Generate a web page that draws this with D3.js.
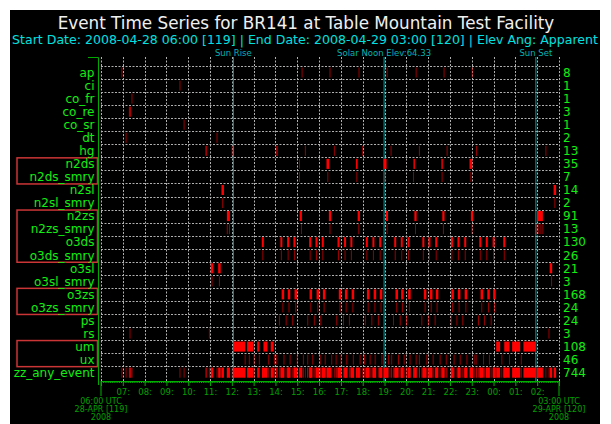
<!DOCTYPE html>
<html>
<head>
<meta charset="utf-8">
<script src="https://cdn.jsdelivr.net/npm/d3@7"></script>
<style>
body { margin: 0; background: #fff; }
svg { display: block; font-family: "DejaVu Sans", sans-serif; }
</style>
</head>
<body>
<svg class="chart"></svg>
<script>
// hours are UTC hours counted from 2008-04-28 00:00 (so 25.5 = 01:30 on the 29th)
// tick events are [hour, n] (n = events stacked on that spot), blocks are [from, to, n]
var rows = ["ap", "ci", "co_fr", "co_re", "co_sr", "dt", "hg", "n2ds", "n2ds_smry", "n2sl", "n2sl_smry",
    "n2zs", "n2zs_smry", "o3ds", "o3ds_smry", "o3sl", "o3sl_smry", "o3zs", "o3zs_smry", "ps", "rs", "um", "ux", "zz_any_event"];
var counts = [8, 1, 1, 3, 1, 2, 13, 35, 7, 14, 2, 91, 13, 130, 26, 21, 3, 168, 24, 24, 3, 108, 46, 744];

var ap = [[6.96, 1], [15.22, 1], [16.50, 1], [17.83, 1], [19.12, 1], [20.45, 1], [21.73, 1], [23.02, 1]];
var ci = [[9.62, 1]];
var co_fr = [[7.42, 1]];
var co_re = [[7.30, 1], [7.33, 1], [7.36, 1]];
var co_sr = [[9.81, 1]];
var dt = [[7.15, 1], [11.32, 1]];
var hg = [[10.82, 2], [12.01, 1], [14.07, 2], [15.37, 1], [16.70, 1], [18.00, 1], [19.30, 1], [20.60, 1],
    [21.87, 1], [23.22, 1], [26.40, 1]];
var n2ds = [[15.10, 1], [16.40, 8], [17.73, 4], [19.03, 8], [20.36, 3], [21.64, 3], [22.96, 8]];
var n2ds_smry = [[15.10, 1], [16.40, 1], [17.73, 1], [19.03, 1], [20.33, 1], [21.64, 1], [22.96, 1]];
var n2sl = [[11.58, 7], [26.81, 7]];
var n2sl_smry = [[11.58, 1], [26.81, 1]];
var n2zs = [[11.84, 20], [15.16, 6], [16.50, 6], [17.82, 6], [19.11, 6], [20.42, 6], [21.70, 6], [23.01, 6],
    [25.99, 26.26, 29]];
var n2zs_smry = [[11.79, 1], [11.89, 1], [15.19, 1], [16.50, 1], [17.82, 1], [19.12, 1], [20.42, 1], [21.70, 1],
    [23.01, 1], [25.95, 1], [26.05, 1], [26.17, 1], [26.26, 1]];
var o3ds = [[13.42, 5], [14.27, 5], [14.58, 5], [14.87, 5], [15.59, 5], [15.88, 5], [16.17, 5], [16.89, 5],
    [17.19, 5], [17.48, 5], [18.19, 5], [18.49, 5], [18.80, 5], [19.49, 5], [19.79, 5], [20.10, 5], [20.78, 5],
    [21.06, 5], [21.37, 5], [22.09, 5], [22.39, 5], [22.70, 5], [23.39, 5], [23.69, 5], [24.00, 5], [24.49, 5]];
var o3ds_smry = [[13.42, 1], [14.27, 1], [14.58, 1], [14.87, 1], [15.59, 1], [15.88, 1], [16.17, 1], [16.89, 1],
    [17.19, 1], [17.48, 1], [18.19, 1], [18.49, 1], [18.80, 1], [19.49, 1], [19.79, 1], [20.10, 1], [20.78, 1],
    [21.06, 1], [21.37, 1], [22.09, 1], [22.39, 1], [22.70, 1], [23.39, 1], [23.69, 1], [24.00, 1], [24.49, 1]];
var o3sl = [[11.09, 7], [11.43, 7], [26.63, 7]];
var o3sl_smry = [[11.09, 1], [11.43, 1], [26.66, 1]];
var o3zs = [[14.34, 7], [14.62, 7], [14.93, 7], [15.62, 7], [15.94, 7], [16.23, 7], [16.96, 7], [17.24, 7],
    [17.55, 7], [18.25, 7], [18.56, 7], [18.84, 7], [19.56, 7], [19.82, 7], [20.14, 7], [20.86, 7], [21.14, 7],
    [21.41, 7], [22.12, 7], [22.42, 7], [22.73, 7], [23.46, 7], [23.77, 7], [24.04, 7]];
var o3zs_smry = [[14.34, 1], [14.62, 1], [14.93, 1], [15.62, 1], [15.94, 1], [16.23, 1], [16.96, 1], [17.24, 1],
    [17.55, 1], [18.25, 1], [18.56, 1], [18.84, 1], [19.56, 1], [19.82, 1], [20.14, 1], [20.86, 1], [21.14, 1],
    [21.41, 1], [22.12, 1], [22.42, 1], [22.73, 1], [23.46, 1], [23.77, 1], [24.04, 1]];
var ps = [[14.18, 1], [14.49, 1], [14.79, 1], [15.48, 1], [15.78, 1], [16.08, 1], [16.81, 1], [17.12, 1],
    [17.39, 1], [18.12, 1], [18.42, 1], [18.72, 1], [19.41, 1], [19.72, 1], [20.01, 1], [20.71, 1], [21.01, 1],
    [21.32, 1], [22.06, 1], [22.32, 1], [22.59, 1], [23.31, 1], [23.58, 1], [23.89, 1]];
var rs = [[7.33, 1], [10.97, 1], [26.54, 1]];
var um = [[12.07, 12.61, 22], [12.70, 12.99, 12], [13.16, 13.26, 4], [13.45, 13.63, 8], [13.78, 13.92, 6],
    [24.12, 24.30, 8], [24.49, 24.73, 10], [24.85, 25.22, 15], [25.37, 25.92, 23]];
var ux = [[12.61, 1], [12.80, 1], [13.02, 1], [13.26, 1], [13.69, 1], [13.95, 1], [14.06, 1], [14.39, 1],
    [14.67, 1], [15.00, 1], [15.28, 1], [15.48, 1], [15.71, 1], [16.05, 1], [16.28, 1], [16.58, 1], [16.78, 1],
    [17.01, 1], [17.27, 1], [17.57, 1], [17.88, 1], [18.08, 1], [18.34, 1], [18.57, 1], [18.88, 1], [19.18, 1],
    [19.33, 1], [19.64, 1], [19.90, 1], [20.17, 1], [20.45, 1], [20.60, 1], [20.94, 1], [21.23, 1], [21.55, 1],
    [21.83, 1], [22.19, 1], [22.47, 1], [22.78, 1], [23.11, 1], [23.20, 1], [23.54, 1], [23.81, 1], [24.38, 1],
    [24.73, 1], [25.27, 1]];

// zz_any_event is every event of the other rows
var rowEvents = [ap, ci, co_fr, co_re, co_sr, dt, hg, n2ds, n2ds_smry, n2sl, n2sl_smry, n2zs, n2zs_smry,
    o3ds, o3ds_smry, o3sl, o3sl_smry, o3zs, o3zs_smry, ps, rs, um, ux];
rowEvents.push([].concat.apply([], rowEvents));

var groups = [["n2ds", "n2ds_smry"], ["n2zs", "o3ds_smry"], ["o3zs", "o3zs_smry"], ["um", "ux"]];

var sunTimes = [12.07, 18.98, 25.94];
var sunLabels = ["Sun Rise", "Solar Noon Elev:64.33", "Sun Set"];

var title = "Event Time Series for BR141 at Table Mountain Test Facility";
var subtitle = "Start Date: 2008-04-28 06:00 [119] | End Date: 2008-04-29 03:00 [120] | Elev Ang: Apparent";
var startLabel = ["06:00 UTC", "28-APR [119]", "2008"];
var endLabel = ["03:00 UTC", "29-APR [120]", "2008"];

var width = 611, height = 424;
var day0 = Date.UTC(2008, 3, 28);
function toDate(h) { return new Date(day0 + h * 3600e3); }

var svg = d3.select(".chart")
    .attr("width", width)
    .attr("height", height);

svg.append("rect")
    .attr("x", 10).attr("y", 10)
    .attr("width", 590).attr("height", 414)
    .attr("fill", "#000");

var x = d3.scaleUtc()
    .domain([toDate(6), toDate(27)])
    .range([101, 559]);

var y = d3.scaleBand()
    .domain(rows)
    .range([66, 379.2]);

var plotTop = 57, plotBottom = 381;

// grid
svg.append("g").selectAll("line")
    .data(x.ticks(d3.utcHour.every(1)))
    .enter().append("line")
    .attr("x1", function (d) { return Math.round(x(d)) + 0.5; })
    .attr("x2", function (d) { return Math.round(x(d)) + 0.5; })
    .attr("y1", plotTop).attr("y2", plotBottom)
    .attr("stroke", "#b0b0b0")
    .attr("stroke-dasharray", "2,1.5");

svg.append("g").selectAll("line")
    .data(rows)
    .enter().append("line")
    .attr("x1", 101).attr("x2", 559)
    .attr("y1", function (d) { return Math.round(y(d)) + 0.5; })
    .attr("y2", function (d) { return Math.round(y(d)) + 0.5; })
    .attr("stroke", "#b0b0b0")
    .attr("stroke-dasharray", "2,1.5");

// sun lines
svg.append("g").selectAll("line")
    .data(sunTimes)
    .enter().append("line")
    .attr("x1", function (d) { return x(toDate(d)); })
    .attr("x2", function (d) { return x(toDate(d)); })
    .attr("y1", plotTop).attr("y2", plotBottom)
    .attr("stroke", "#00a0a0");

svg.append("g").selectAll("text")
    .data(sunTimes)
    .enter().append("text")
    .attr("x", function (d) { return x(toDate(d)); })
    .attr("y", 56)
    .attr("text-anchor", "middle")
    .style("font-size", "8.5px")
    .attr("fill", "#00b4b4")
    .text(function (d, i) { return sunLabels[i]; });

// events
var bw = y.bandwidth();
var rowG = svg.append("g").selectAll("g")
    .data(rows)
    .enter().append("g");

rowG.selectAll("rect")
    .data(function (d, i) { return rowEvents[i]; })
    .enter().append("rect")
    .attr("x", function (e) {
        if (e.length == 3) return x(toDate(e[0]));
        return x(toDate(e[0])) - Math.min(3, 1 + 0.25 * (e[1] - 1)) / 2;
    })
    .attr("width", function (e) {
        if (e.length == 3) return x(toDate(e[1])) - x(toDate(e[0]));
        return Math.min(3, 1 + 0.25 * (e[1] - 1));
    })
    .attr("y", function () { return y(d3.select(this.parentNode).datum()) + 1.5; })
    .attr("height", bw - 3)
    .attr("fill", "#ff0000")
    .attr("fill-opacity", function (e) { return 1 - Math.pow(0.4, e[e.length - 1]); });

// group boxes
svg.append("g").selectAll("rect")
    .data(groups)
    .enter().append("rect")
    .attr("x", 17)
    .attr("y", function (d) { return y(d[0]) + 0.5; })
    .attr("width", 80.5)
    .attr("height", function (d) { return y(d[1]) + bw - y(d[0]); })
    .attr("fill", "none")
    .attr("stroke", "#cc3535")
    .attr("stroke-width", 1.5);

// row labels and counts
svg.append("g").selectAll("text")
    .data(rows)
    .enter().append("text")
    .attr("x", 94.5)
    .attr("y", function (d) { return y(d) + bw / 2; })
    .attr("dy", "0.36em")
    .attr("text-anchor", "end")
    .style("font-size", "12px")
    .attr("fill", "#11ee11")
    .text(function (d) { return d; });

svg.append("g").selectAll("text")
    .data(counts)
    .enter().append("text")
    .attr("x", 563)
    .attr("y", function (d, i) { return y(rows[i]) + bw / 2; })
    .attr("dy", "0.36em")
    .style("font-size", "12px")
    .attr("fill", "#11ee11")
    .text(function (d) { return d; });

// left axis line
svg.append("path")
    .attr("d", "M88," + (plotTop + 0.5) + "H98.5V385")
    .attr("fill", "none")
    .attr("stroke", "#00aa00");

// time axis
var last = x.ticks(d3.utcHour.every(1)).length - 1;
var minor = svg.append("g")
    .attr("transform", "translate(0," + plotBottom + ")")
    .call(d3.axisBottom(x).ticks(d3.utcMinute.every(5)).tickSize(2).tickSizeOuter(0).tickFormat(""));
var major = svg.append("g")
    .attr("transform", "translate(0," + plotBottom + ")")
    .call(d3.axisBottom(x).ticks(d3.utcHour.every(1)).tickSize(5).tickSizeOuter(0)
        .tickFormat(function (d, i) { return (i == 0 || i == last) ? "" : d3.utcFormat("%H:")(d); }));
svg.selectAll(".domain").attr("stroke", "#00b000");
svg.selectAll(".tick line").attr("stroke", "#00b000");
major.selectAll("text")
    .attr("fill", "#00a000")
    .style("font-size", "8.5px")
    .style("font-family", "DejaVu Sans");

svg.append("g").selectAll("line")
    .data(x.domain())
    .enter().append("line")
    .attr("x1", function (d) { return x(d); })
    .attr("x2", function (d) { return x(d); })
    .attr("y1", plotBottom).attr("y2", 396)
    .attr("stroke", "#00b000");

// corner dates
[startLabel, endLabel].forEach(function (lines, j) {
    svg.append("g").selectAll("text")
        .data(lines)
        .enter().append("text")
        .attr("x", x(x.domain()[j]))
        .attr("y", function (d, i) { return 404 + i * 8; })
        .attr("text-anchor", "middle")
        .style("font-size", "8px")
        .attr("fill", "#00a000")
        .text(function (d) { return d; });
});

// titles
svg.append("text")
    .attr("x", 306).attr("y", 29)
    .attr("text-anchor", "middle")
    .style("font-size", "16.8px")
    .attr("fill", "#f0f0f0")
    .text(title);

svg.append("text")
    .attr("x", 305).attr("y", 43.5)
    .attr("text-anchor", "middle")
    .style("font-size", "12.55px")
    .attr("fill", "#00e0e0")
    .text(subtitle);
</script>
</body>
</html>
